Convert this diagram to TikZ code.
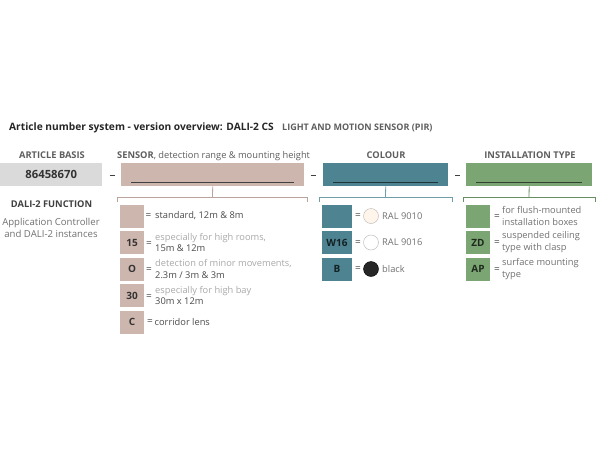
\documentclass[tikz,border=0pt]{standalone}
\usepackage{fontspec}
\setmainfont{Open Sans}
\usetikzlibrary{positioning}

\definecolor{basegray}{HTML}{DADADA}
\definecolor{sensorpink}{HTML}{CDB6AE}
\definecolor{colourteal}{HTML}{4E8491}
\definecolor{installgreen}{HTML}{7BA674}
\definecolor{headgray}{HTML}{5E5E5E}
\definecolor{textdark}{HTML}{4A4A4A}
\definecolor{textlight}{HTML}{A8A8A8}
\definecolor{textmid}{HTML}{707070}

\begin{document}
\begin{tikzpicture}[x=1pt, y=-1pt,
    headtext/.style={font=\bfseries\fontsize{9.3}{10}\selectfont, text=headgray},
    codebox/.style={anchor=north west, inner sep=0pt, minimum height=23pt},
    optbox/.style={inner sep=0pt, minimum width=24pt, minimum height=23pt,
        font=\bfseries\fontsize{10}{11}\selectfont, text=black!80},
    eqsign/.style={font=\fontsize{10}{10}\selectfont, text=black!70, inner sep=0pt},
    opttext/.style={anchor=west, inner sep=0pt, align=left,
        font=\fontsize{9.3}{11.5}\selectfont, text=textdark},
    bracket/.style={line width=0.8pt}
]

    % Page frame
    \useasboundingbox (0,0) rectangle (610,450);

    %% Title
    \node[anchor=base west, inner sep=0pt, font=\bfseries\fontsize{10.2}{12}\selectfont, text=black!85]
        (title) at (9,130) {Article number system - version overview: DALI-2 CS};
    \node[anchor=base west, inner sep=0pt, font=\bfseries\fontsize{9}{10}\selectfont, text=headgray]
        (subtitle) at (282,130) {LIGHT AND MOTION SENSOR (PIR)};

    %% Column headings
    \node[headtext, anchor=base] (basehead) at (52,158) {ARTICLE BASIS};
    \node[headtext, anchor=base west, inner sep=0pt] (sensorhead) at (117,158)
        {SENSOR\mdseries, detection range \& mounting height};
    \node[headtext, anchor=base] (colourhead) at (386,158) {COLOUR};
    \node[headtext, anchor=base] (installhead) at (530,158) {INSTALLATION TYPE};

    %% Code boxes
    \node[codebox, fill=basegray, minimum width=102pt, text=black!80,
        font=\bfseries\fontsize{11.3}{12}\selectfont] (basebox) at (0,163) {86458670};
    \node[codebox, fill=sensorpink, minimum width=183pt] (sensorbox) at (121,163) {};
    \node[codebox, fill=colourteal, minimum width=125pt] (colourbox) at (323,163) {};
    \node[codebox, fill=installgreen, minimum width=126pt] (installbox) at (466,163) {};

    % Underlines inside the boxes
    \draw[line width=0.9pt, black!75] ([xshift=10pt, yshift=4pt]sensorbox.south west) -- ([xshift=-10pt, yshift=4pt]sensorbox.south east);
    \draw[line width=0.9pt, colourteal!40!black] ([xshift=10pt, yshift=4pt]colourbox.south west) -- ([xshift=-10pt, yshift=4pt]colourbox.south east);
    \draw[line width=0.9pt, installgreen!40!black] ([xshift=10pt, yshift=4pt]installbox.south west) -- ([xshift=-10pt, yshift=4pt]installbox.south east);

    % Dashes between boxes
    \draw[line width=1pt, black!75] (109.5,175) -- (114.5,175);
    \draw[line width=1pt, black!75] (310.5,175) -- (315.5,175);
    \draw[line width=1pt, black!75] (455,175) -- (460,175);

    %% Brackets
    \draw[bracket, sensorpink!90!black] (sensorbox.south) -- (212.5,197);
    \draw[bracket, sensorpink!90!black] (117,202) -- (117,197) -- (307,197) -- (307,202);
    \draw[bracket, colourteal!80] (colourbox.south) -- (385.5,197);
    \draw[bracket, colourteal!80] (319,202) -- (319,197) -- (452,197) -- (452,202);
    \draw[bracket, installgreen!85!black] (installbox.south) -- (529,197);
    \draw[bracket, installgreen!85!black] (463,202) -- (463,197) -- (595,197) -- (595,202);

    %% DALI-2 function
    \node[headtext, text=black!75, anchor=base] (dalihead) at (51.5,207.5) {DALI-2 FUNCTION};
    \node[align=center, inner sep=0pt, font=\fontsize{9.6}{12}\selectfont, text=textmid]
        (dalitext) at (51,228) {Application Controller\\and DALI-2 instances};

    %% Sensor options
    \node[optbox, fill=sensorpink] (sens1) at (132,216) {};
    \node[eqsign] (eq1) at (148.5,216) {=};
    \node[opttext] (txt1) at (155,216) {standard, 12m \& 8m};

    \node[optbox, fill=sensorpink] (sens2) at (132,242.5) {15};
    \node[eqsign] (eq2) at (149,244) {=};
    \node[opttext] (txt2) at (155,242.5) {\textcolor{textlight}{especially for high rooms,}\\15m \& 12m};

    \node[optbox, fill=sensorpink] (sens3) at (132,269) {O};
    \node[eqsign] (eq3) at (149,270.5) {=};
    \node[opttext] (txt3) at (155,269) {\textcolor{textlight}{detection of minor movements,}\\2.3m / 3m \& 3m};

    \node[optbox, fill=sensorpink] (sens4) at (132,295.5) {30};
    \node[eqsign] (eq4) at (149,297) {=};
    \node[opttext] (txt4) at (155,295.5) {\textcolor{textlight}{especially for high bay}\\30m x 12m};

    \node[optbox, fill=sensorpink] (sens5) at (132,322) {C};
    \node[eqsign] (eq5) at (150,322) {=};
    \node[opttext] (txt5) at (154.5,322) {corridor lens};

    %% Colour options
    \node[optbox, fill=colourteal, minimum width=30pt, text=colourteal!25!black] (col1) at (337,216) {};
    \node[eqsign] (ceq1) at (358,216.5) {=};
    \draw[fill=orange!8!white, draw=black!25, line width=0.5pt] (371,216) circle (7.5);
    \node[opttext, text=textmid] (ctxt1) at (382,216) {RAL 9010};

    \node[optbox, fill=colourteal, minimum width=30pt, text=colourteal!25!black] (col2) at (337,242.5) {W16};
    \node[eqsign] (ceq2) at (358,243) {=};
    \draw[fill=white, draw=black!25, line width=0.5pt] (371,242.5) circle (7.5);
    \node[opttext, text=textmid] (ctxt2) at (382,242.5) {RAL 9016};

    \node[optbox, fill=colourteal, minimum width=30pt, text=colourteal!25!black] (col3) at (337,269) {B};
    \node[eqsign] (ceq3) at (358,269.5) {=};
    \draw[fill=black!85] (371,269) circle (7.5);
    \node[opttext, text=textmid] (ctxt3) at (382,269) {black};

    %% Installation options
    \node[optbox, fill=installgreen, text=installgreen!25!black] (ins1) at (478,216) {};
    \node[eqsign] (ieq1) at (497,217) {=};
    \node[opttext, text=textmid, font=\fontsize{9.3}{12}\selectfont] (itxt1) at (502,216) {for flush-mounted\\installation boxes};

    \node[optbox, fill=installgreen, text=installgreen!25!black] (ins2) at (478,242.5) {ZD};
    \node[eqsign] (ieq2) at (497,243.5) {=};
    \node[opttext, text=textmid, font=\fontsize{9.3}{12}\selectfont] (itxt2) at (502,242.5) {suspended ceiling\\type with clasp};

    \node[optbox, fill=installgreen, text=installgreen!25!black] (ins3) at (478,269) {AP};
    \node[eqsign] (ieq3) at (497,270) {=};
    \node[opttext, text=textmid, font=\fontsize{9.3}{12}\selectfont] (itxt3) at (502,269) {surface mounting\\type};

\end{tikzpicture}
\end{document}
